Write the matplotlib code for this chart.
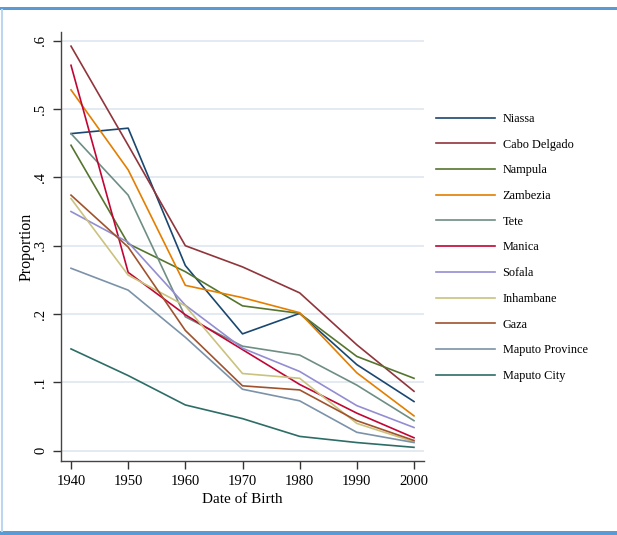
import matplotlib
matplotlib.use("Agg")
import matplotlib.pyplot as plt
from matplotlib.lines import Line2D
from matplotlib.patches import Rectangle

plt.rcParams['font.family'] = ['Liberation Serif', 'DejaVu Serif']

years = [1940, 1950, 1960, 1970, 1980, 1990, 2000]

provinces = ['Niassa', 'Cabo Delgado', 'Nampula', 'Zambezia', 'Tete', 'Manica',
             'Sofala', 'Inhambane', 'Gaza', 'Maputo Province', 'Maputo City']

niassa = [0.464, 0.472, 0.271, 0.171, 0.201, 0.126, 0.072]
cabo_delgado = [0.592, 0.447, 0.300, 0.269, 0.231, 0.155, 0.087]
nampula = [0.447, 0.303, 0.262, 0.212, 0.201, 0.138, 0.106]
zambezia = [0.528, 0.411, 0.242, 0.224, 0.202, 0.114, 0.051]
tete = [0.464, 0.374, 0.196, 0.153, 0.140, 0.096, 0.044]
manica = [0.564, 0.261, 0.199, 0.148, 0.097, 0.055, 0.019]
sofala = [0.350, 0.305, 0.213, 0.150, 0.116, 0.066, 0.034]
inhambane = [0.369, 0.257, 0.212, 0.113, 0.106, 0.040, 0.013]
gaza = [0.374, 0.298, 0.176, 0.095, 0.089, 0.044, 0.015]
maputo_province = [0.267, 0.235, 0.166, 0.090, 0.073, 0.027, 0.012]
maputo_city = [0.149, 0.110, 0.067, 0.047, 0.021, 0.012, 0.005]

series = [niassa, cabo_delgado, nampula, zambezia, tete, manica,
          sofala, inhambane, gaza, maputo_province, maputo_city]

# stata s2color palette
colors = ['#1a476f', '#90353b', '#55752f', '#e37e00', '#6e8e84', '#c10534',
          '#938dd2', '#cac27e', '#a0522d', '#7b92a8', '#2d6d66']

yticks = [0, 0.1, 0.2, 0.3, 0.4, 0.5, 0.6]
ytick_labels = ['0', '.1', '.2', '.3', '.4', '.5', '.6']

W, H = 617, 535
fig = plt.figure(figsize=(W / 100, H / 100), dpi=100)
ax = fig.add_axes([61 / W, 1 - 461 / H, 363 / W, 429 / H])

for vals, name, c in zip(series, provinces, colors):
    ax.plot(years, vals, color=c, lw=1.2, label=name)

ax.set_xlim(1938.25, 2001.75)
ax.set_ylim(-0.015, 0.6127)
ax.set_xticks(years)
ax.set_yticks(yticks)
ax.set_yticklabels(ytick_labels, rotation=90, va='center', ha='right')
ax.tick_params(axis='both', length=6, width=1, labelsize=10.5, color='#333333')
ax.tick_params(axis='y', pad=4)
ax.tick_params(axis='x', pad=4)

ax.grid(axis='y', color='#dfe6f0', lw=1.2)
ax.set_axisbelow(True)
for side in ['top', 'right']:
    ax.spines[side].set_visible(False)
for side in ['left', 'bottom']:
    ax.spines[side].set_color('#444444')
    ax.spines[side].set_linewidth(1.0)

ax.set_xlabel('Date of Birth', fontsize=11)
ax.xaxis.set_label_coords(0.5, -0.074)
ax.set_ylabel('Proportion', fontsize=11.5)
ax.yaxis.set_label_coords(-0.072, 0.5)

ax.legend(loc='upper left', bbox_to_anchor=(436 / W, 1 - 113 / H),
          bbox_transform=fig.transFigure, frameon=False, fontsize=8.8,
          handlelength=4.8, handletextpad=0.65, labelspacing=1.12,
          borderpad=0, borderaxespad=0)

# page frame around the figure
fig.add_artist(Rectangle((0, 1 - 10 / H), 1, 3 / H, transform=fig.transFigure,
                         color='#5b9bd5', lw=0))
fig.add_artist(Rectangle((0, 0), 1, 4 / H, transform=fig.transFigure,
                         color='#5b9bd5', lw=0))
fig.add_artist(Line2D([1.5 / W, 1.5 / W], [4 / H, 1 - 10 / H],
                      transform=fig.transFigure, color='#bcd6ee', lw=1.5))

fig.savefig('out.png', dpi=100)
